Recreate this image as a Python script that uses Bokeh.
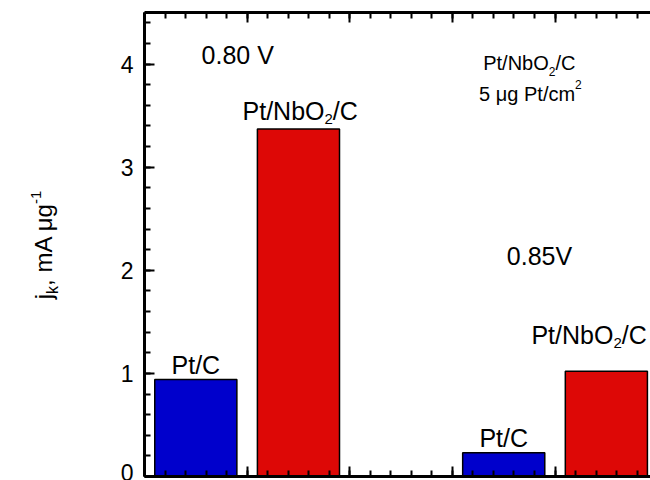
import math
from bokeh.plotting import figure
from bokeh.layouts import row
from bokeh.models import (Label, SingleIntervalTicker, LinearAxis, Range1d, ColumnDataSource,
                          Div, CustomLabelingPolicy)
from bokeh.embed import file_html
from bokeh.resources import INLINE

# ---------------- data ----------------
potentials = ["0.80 V", "0.85V"]
catalysts = ["Pt/C", "Pt/NbO2/C"]
jk_pt_c = [0.94, 0.23]        # mA/ug, Pt/C
jk_pt_nbo2_c = [3.37, 1.02]   # mA/ug, Pt/NbO2/C

# ---------------- layout ----------------
group_start = [0, 3]   # slot where each potential group starts on the x scale
bar_width = 0.8
FONT = "Liberation Sans"
BLUE = "#0000CC"
RED = "#DD0806"
TITLE_W = 60

x_bar_c = [g + 0.5 for g in group_start]
x_bar_nb = [g + 1.5 for g in group_start]

p = figure(width=650 - TITLE_W, height=480, output_backend="svg", toolbar_location=None,
           x_range=Range1d(0, 4.93), y_range=Range1d(0, 4.5),
           min_border_left=144 - TITLE_W, min_border_right=0, min_border_top=12,
           min_border_bottom=4)
p.outline_line_color = None
p.outline_line_width = 0
p.xgrid.visible = False
p.ygrid.visible = False
p.background_fill_color = "white"
p.border_fill_color = "white"

src_c = ColumnDataSource(dict(x=x_bar_c, top=jk_pt_c))
src_nb = ColumnDataSource(dict(x=x_bar_nb, top=jk_pt_nbo2_c))
p.vbar(x="x", top="top", width=bar_width, source=src_c, fill_color=BLUE,
       line_color="black", line_width=1.5)
p.vbar(x="x", top="top", width=bar_width, source=src_nb, fill_color=RED,
       line_color="black", line_width=1.5)

NO_LABELS = CustomLabelingPolicy(code="""
for (const i of indices) { indices.unset(i) }
return indices
""")


def style_axis(ax, labels=True):
    ax.axis_line_width = 3
    ax.axis_line_color = "black"
    ax.major_tick_in = 10
    ax.major_tick_out = 0
    ax.minor_tick_in = 6
    ax.minor_tick_out = 0
    ax.major_tick_line_width = 2
    ax.minor_tick_line_width = 2
    ax.major_tick_line_color = "black"
    ax.minor_tick_line_color = "black"
    if labels:
        ax.major_label_text_font = FONT
        ax.major_label_text_font_size = "23px"
        ax.major_label_text_color = "black"
        ax.major_label_standoff = 11
    else:
        ax.major_label_text_font_size = "0px"
        ax.major_label_standoff = 0
        ax.major_label_policy = NO_LABELS


p.yaxis.ticker = SingleIntervalTicker(interval=1, num_minor_ticks=5)
style_axis(p.yaxis[0])
p.yaxis.axis_label = None

p.xaxis.ticker = SingleIntervalTicker(interval=1, num_minor_ticks=5)
style_axis(p.xaxis[0], labels=False)

top_ax = LinearAxis(ticker=SingleIntervalTicker(interval=1, num_minor_ticks=5))
style_axis(top_ax, labels=False)
p.add_layout(top_ax, "above")

# ---------------- rich text helper ----------------
W = {"P": 667, "t": 278, "/": 278, "N": 722, "b": 556, "O": 778, "C": 722,
     " ": 278, ".": 278, "V": 667, "\u03bc": 576, "g": 556, "c": 500, "m": 833,
     "j": 222, "k": 500, ",": 278, "A": 667, "-": 333}


def tw(s, size):
    return sum(W.get(ch, 556) for ch in s) * size / 1000.0


def rich(x, y, parts, size, small, sub_shift, sup_shift):
    off = 0.0
    for t, k in parts:
        fs = size if k == "n" else small
        dy = 0 if k == "n" else (-sub_shift if k == "sub" else sup_shift)
        lab = Label(x=x, y=y, x_offset=off, y_offset=dy, text=t,
                    text_align="left", text_baseline="alphabetic")
        lab.text_font = FONT
        lab.text_font_size = f"{fs}px"
        lab.text_color = "black"
        p.add_layout(lab)
        off += tw(t, fs)


nb_parts = [("Pt/NbO", "n"), ("2", "sub"), ("/C", "n")]

rich(0.556, 4.09, [(potentials[0], "n")], 25, 15, 8, 9)
rich(3.53, 2.14, [(potentials[1], "n")], 25, 15, 8, 9)

for xc, v in zip(x_bar_c, jk_pt_c):
    lab = Label(x=xc, y=v, y_offset=15, text=catalysts[0], text_align="center",
                text_baseline="alphabetic")
    lab.text_font = FONT
    lab.text_font_size = "25px"
    lab.text_color = "black"
    p.add_layout(lab)

rich(0.955, 3.54, nb_parts, 25, 15, 8, 9)
rich(3.77, 1.37, nb_parts, 25, 15, 8, 9)

rich(3.30, 4.01, nb_parts, 20, 12, 8, 9)
rich(3.26, 3.71, [("5 \u03bcg Pt/cm", "n"), ("2", "sup")], 20, 12, 8, 9)

# ---------------- y-axis title (rotated, real text) ----------------
ytitle_html = (
    '<div style="position:relative;width:%dpx;height:480px;">'
    '<div style="position:absolute;left:44px;top:245px;'
    'transform:translate(-50%%,-50%%) rotate(-90deg);white-space:nowrap;'
    "font-family:'Liberation Sans';font-size:24px;color:#000;line-height:1;\">"
    'j<span style="font-size:16px;position:relative;top:6px;">k</span>, mA &mu;g'
    '<span style="font-size:15px;position:relative;top:-11px;">-1</span>'
    '</div></div>' % TITLE_W
)
ytitle = Div(text=ytitle_html, width=TITLE_W, height=480, margin=0)

layout = row(ytitle, p, spacing=0)
open("out.html", "w").write(file_html(layout, INLINE))
